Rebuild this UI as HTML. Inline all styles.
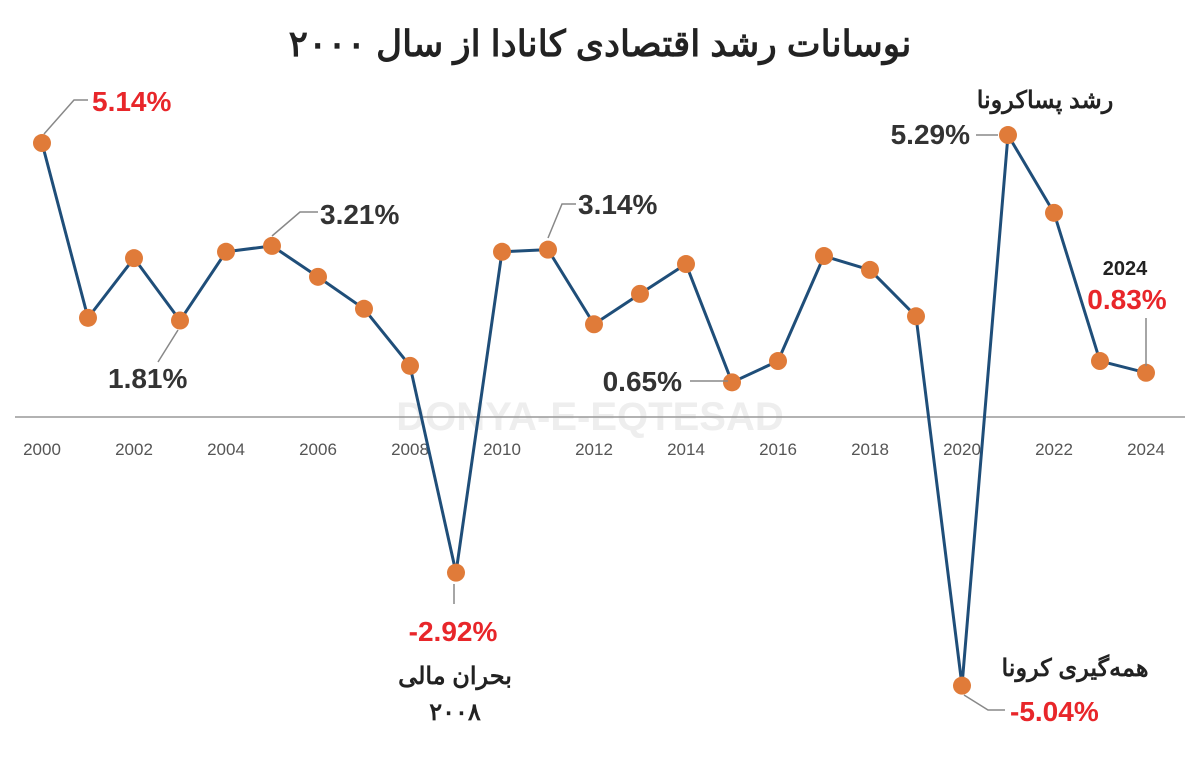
<!DOCTYPE html>
<html><head><meta charset="utf-8"><style>
html,body{margin:0;padding:0;background:#fff;width:1200px;height:775px;overflow:hidden}
svg{display:block;font-family:"Liberation Sans","Noto Sans CJK SC",sans-serif}
</style></head><body>
<svg id="chart" width="1200" height="775" viewBox="0 0 1200 775">
<rect x="0" y="0" width="1200" height="775" fill="#fff"/>
<text x="600" y="56" text-anchor="middle" font-size="36" font-weight="bold" fill="#222" direction="rtl">نوسانات رشد اقتصادی کانادا از سال ۲۰۰۰</text>
<text x="590" y="430" text-anchor="middle" font-size="40" font-weight="bold" fill="#eee">DONYA-E-EQTESAD</text>
<line x1="15" y1="417" x2="1185" y2="417" stroke="#999" stroke-width="1.5"/>
<g id="ticks"></g>
<g id="series"></g>
<g id="annots"></g>
</svg>
<script>
const years = [2000,2001,2002,2003,2004,2005,2006,2007,2008,2009,2010,2011,2012,2013,2014,2015,2016,2017,2018,2019,2020,2021,2022,2023,2024];
const growth = [5.14,1.86,2.98,1.81,3.10,3.21,2.63,2.03,0.96,-2.92,3.10,3.14,1.74,2.31,2.87,0.65,1.05,3.02,2.76,1.89,-5.04,5.29,3.83,1.05,0.83];
const tickYears = [2000,2002,2004,2006,2008,2010,2012,2014,2016,2018,2020,2022,2024];
const NS="http://www.w3.org/2000/svg";
const x = y => 42 + (y-2000)*46;
const yv = v => 417 - v*53.3;
function mk(tag, attrs, parent){const e=document.createElementNS(NS,tag);for(const k in attrs)e.setAttribute(k,attrs[k]);parent.appendChild(e);return e;}
const tg=document.getElementById('ticks');
tickYears.forEach(t=>{const e=mk('text',{x:x(t),y:455,'text-anchor':'middle','font-size':17,fill:'#555'},tg);e.textContent=t;

});
const sg=document.getElementById('series');
const pl=mk('polyline',{points:years.map((y,i)=>x(y)+','+yv(growth[i])).join(' '),fill:'none',stroke:'#1f4e79','stroke-width':3,'stroke-linejoin':'round'},sg);


years.forEach((y,i)=>{const c=mk('circle',{cx:x(y),cy:yv(growth[i]),r:9,fill:'#e07b39'},sg);

});
const ag=document.getElementById('annots');
function lab(txt,tx,ty,color,size,anchor,name,lx1,ly1,lx2,ly2,lx3,ly3){
  if(lx1!==undefined){const p=mk('polyline',{points:lx1+','+ly1+' '+lx2+','+ly2+(lx3!==undefined?' '+lx3+','+ly3:''),fill:'none',stroke:'#888','stroke-width':1.5},ag);
  
  }
  const t=mk('text',{x:tx,y:ty,'font-size':size,'font-weight':'bold',fill:color,'text-anchor':anchor},ag);t.textContent=txt;
  
  
}
lab('5.14%',92,111,'#e8262a',28,'start','label-2000',44,134,74,100,88,100);
lab('1.81%',108,388,'#333',28,'start','label-2003',178,330,158,362);
lab('3.21%',320,224,'#333',28,'start','label-2005',272,236,300,212,318,212);
lab('-2.92%',453,641,'#e8262a',28,'middle','label-2009',454,584,454,604);
lab('بحران مالی',455,684,'#222',24,'middle','crisis-note');
lab('۲۰۰۸',455,720,'#222',24,'middle','crisis-year');
lab('3.14%',578,214,'#333',28,'start','label-2011',548,238,562,204,576,204);
lab('0.65%',682,391,'#333',28,'end','label-2015',690,381,728,381);
lab('5.29%',970,144,'#333',28,'end','label-2021',976,135,998,135);
lab('رشد پساکرونا',1045,108,'#222',24,'middle','post-covid-note');
lab('2024',1125,275,'#222',20,'middle','year-2024');
lab('0.83%',1127,309,'#e8262a',28,'middle','label-2024',1146,318,1146,366);
lab('همه‌گیری کرونا',1075,676,'#222',24,'middle','covid-note');
lab('-5.04%',1010,721,'#e8262a',28,'start','label-2020',964,695,988,710,1005,710);
</script>
</body></html>
